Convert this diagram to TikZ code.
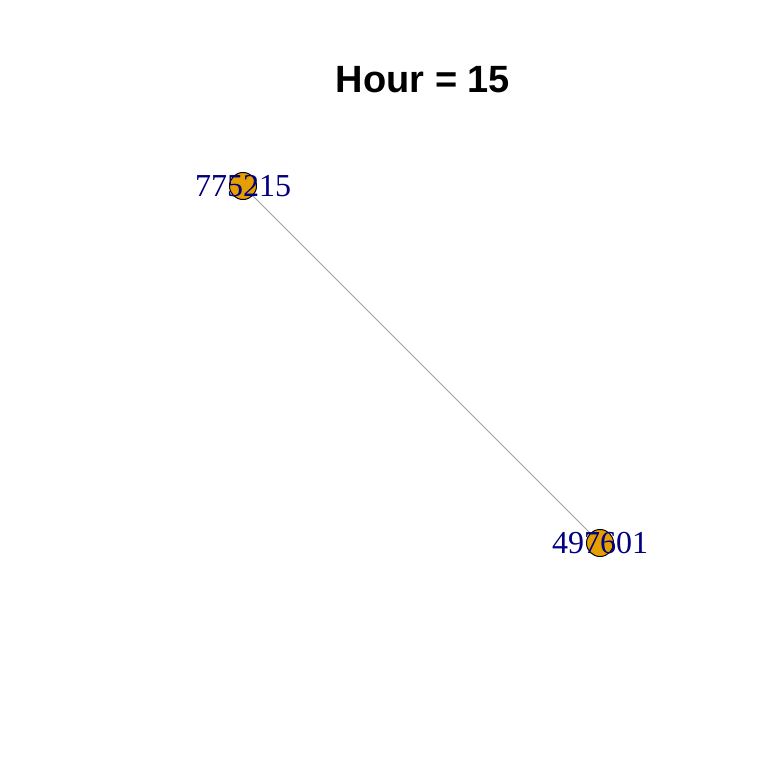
\documentclass[tikz,border=0pt]{standalone}
\usepackage{fontspec}
\setmainfont{Liberation Serif}
\newfontfamily\titlefont{Liberation Sans}
\definecolor{nodefill}{HTML}{E69F00}
\definecolor{labelcol}{HTML}{000080}
\definecolor{edgecol}{HTML}{A0A0A0}
\begin{document}
\begin{tikzpicture}[x=1pt,y=-1pt,
  vert/.style={circle,draw=black,fill=nodefill,line width=1pt,minimum size=27pt,inner sep=0pt},
  vlabel/.style={text=labelcol,font=\fontsize{32}{32}\selectfont,inner sep=0pt},
  edge/.style={draw=edgecol,line width=1pt}]
\useasboundingbox (0,0) rectangle (768,768);
\fill[white] (0,0) rectangle (768,768);
\node[vert] (a) at (243,186) {};
\node[vert] (b) at (600,543) {};
\draw[edge] (a) -- (b);
\node[vlabel] (la) at (243,186) {775215};
\node[vlabel] (lb) at (600,543) {497601};
\node[font=\titlefont\bfseries\fontsize{38}{38}\selectfont,inner sep=0pt] (title) at (423,80) {Hour = 15};
\end{tikzpicture}
\end{document}
